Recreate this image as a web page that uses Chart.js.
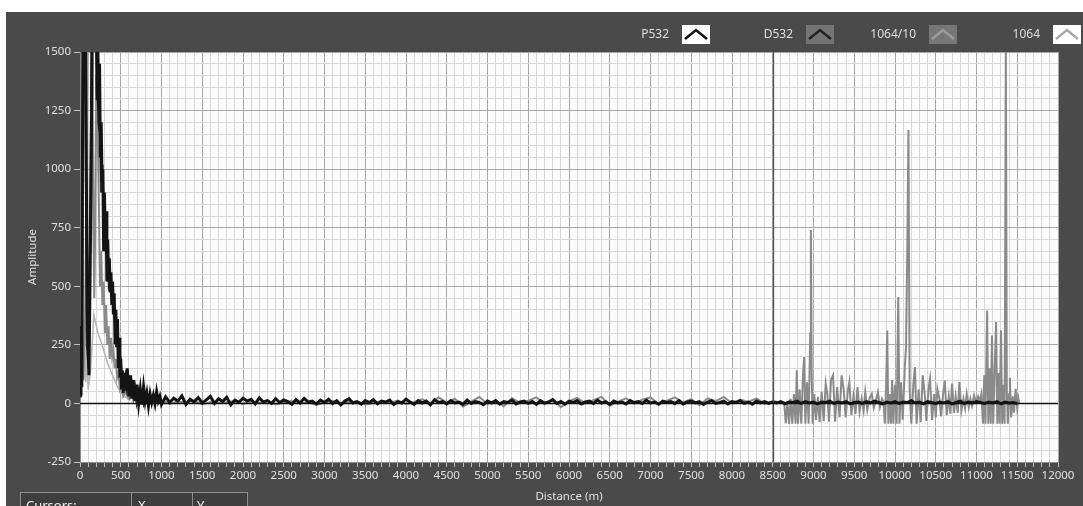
<!DOCTYPE html>
<html>
<head>
<meta charset="utf-8">
<script src="https://cdn.jsdelivr.net/npm/chart.js@4/dist/chart.umd.min.js"></script>
<style>
html, body { margin: 0; padding: 0; background: #fff; }
#wrap { position: relative; width: 1083px; height: 506px; }
</style>
</head>
<body>
<div id="wrap"><canvas id="scope"></canvas></div>
<script>
// Near-field samples (m / amplitude)
const p532Dist = [0, 12, 22, 35, 65, 90, 110, 135, 150, 200, 210, 220, 230, 240, 250, 260, 270, 280, 290, 300,
    310, 320, 330, 340, 350, 360, 370, 380, 390, 400, 410, 420, 430, 440, 450, 460, 470, 480, 490, 500,
    510, 520, 530, 540, 560, 580, 600, 620, 640, 660, 680, 700, 720, 740, 760, 780, 800, 820, 840, 860,
    880, 900, 920, 940, 960, 980, 1000];
const p532Amp = [40, 330, 70, 1600, 1600, 400, 120, 900, 1600, 1600, 1300, 1500, 1250, 1450, 1050, 1200, 950, 1000, 650, 900,
    700, 820, 520, 700, 560, 620, 480, 560, 420, 520, 380, 470, 260, 400, 240, 360, 150, 280, 110, 190,
    60, 140, 45, 130, 55, 150, 30, 120, 20, 100, 10, 80, 0, 60, -5, 70, 10, 45, -10, 40,
    5, 35, 0, 50, 10, 30, -5];

// Far-field P532 samples every 50 m from 1050 m
const p532TailStart = 1050;
const p532TailStep = 50;
const p532TailAmp = [
    28, 4, 22, 10, 32, -4, 18, 6, 25, 2,
    15, 30, 0, 20, 8, 26, -6, 14, 5, 22,
    10, 18, -2, 24, 6, 12, 0, 20, 4, 15,
    8, -4, 16, 2, 22, 6, 10, -2, 14, 4,
    18, 0, 12, -6, 10, 20, 2, 8, -3, 12,
    4, 16, -2, 10, 6, 14, -5, 8, 2, 18,
    6, -4, 12, 2, 10, -6, 16, 4, 8, -2,
    12, 2, 6, -4, 14, 0, 8, 4, -5, 10,
    2, 12, -3, 8, 4, 14, -2, 6, 10, 0,
    8, -4, 12, 2, 6, 16, 0, 8, -3, 10,
    4, 12, -2, 6, 10, 0, 14, 2, 8, -4,
    10, 2, 6, -2, 12, 4, 8, 0, 14, 2,
    6, -3, 10, 4, 8, 0, 12, -2, 6, 10,
    2, 8, -4, 6, 12, 0, 4, 10, -2, 8,
    4, 12, 0, 6, -3, 10, 2, 8, 0, 6,
    2, 8, -2, 6, 4, 10, 0, 8, 2, 6,
    -2, 6, 4, 10, 0, 6, 2, 8, -2, 4,
    6, 0, 8, 2, 10, 4, -2, 6, 2, 8,
    0, 6, 4, 12, 2, 6, -2, 8, 4, 0,
    6, 2, 8, -2, 4, 10, 0, 6, 2, 8,
    4, 0, 6, 2, 8, -2, 6, 2, 4, 0
];

const d532Dist = [0, 12, 25, 38, 62, 85, 105, 130, 145, 210, 225, 245, 260, 275, 295, 315, 335, 355, 375, 395,
    415, 435, 455, 475, 495, 515, 535, 555, 575, 595, 615, 635, 655, 675, 695, 715, 735, 755, 780, 800,
    830, 860, 900, 950, 1000];
const d532Amp = [30, 200, 90, 1600, 1600, 250, 150, 1000, 1600, 1600, 1200, 1150, 900, 1020, 780, 650, 640, 500, 520, 430,
    420, 330, 300, 210, 200, 100, 90, 120, 60, 100, 40, 80, 25, 60, 5, 45, 10, 40, 0, 30,
    10, 25, 5, 20, 0];

const ir10Dist = [0, 8, 16, 25, 40, 60, 80, 95, 150, 165, 175, 185, 200, 215, 230, 245, 260, 275, 290, 305,
    320, 335, 350, 365, 380, 395, 410, 425, 440, 455, 470, 490, 510, 530, 560, 600, 650, 700];
const ir10Amp = [590, 330, 560, 200, 100, 300, 900, 1600, 1600, 730, 450, 700, 1400, 1200, 900, 500, 650, 420, 520, 300,
    420, 250, 330, 190, 280, 200, 230, 150, 190, 110, 130, 60, 80, 30, 50, 20, 35, 10];

// 1064/10 baseline every 100 m from 800 m to 8600 m
const ir10TailStart = 800;
const ir10TailStep = 100;
const ir10TailAmp = [
    10, 2, 14, -2, 8, 4, 12, -4, 6, 2,
    5, 10, -2, 8, 2, 12, -4, 4, 10, 0,
    6, -6, 4, 10, 0, 6, 8, -4, 2, 10,
    2, 12, -2, 6, 18, 0, 26, 4, 20, -14,
    8, 28, -2, 14, -12, 22, 2, 12, 26, -4,
    18, -16, 10, 24, 0, 14, 28, -10, 8, 22,
    -2, 16, 26, -4, 12, 26, 4, 18, -8, 22,
    10, 28, 0, 16, 6, 22, -2, 10, 4
];

// 1064/10 echoes beyond the cursor
const ir10EchoDist = [8640, 8660, 8680, 8700, 8720, 8740, 8760, 8780, 8795, 8810, 8830, 8850, 8870, 8885, 8900, 8920, 8940, 8960, 8968, 8978,
    8990, 9010, 9030, 9055, 9075, 9100, 9125, 9150, 9170, 9190, 9215, 9240, 9265, 9290, 9320, 9345, 9370, 9395, 9420, 9440,
    9465, 9490, 9515, 9540, 9565, 9590, 9615, 9635, 9660, 9690, 9715, 9740, 9765, 9790, 9815, 9840, 9860,
    9875, 9890, 9905, 9918, 9935, 9950, 9965, 9980, 10000, 10020, 10040, 10055, 10075, 10095, 10120, 10135, 10150, 10165, 10180, 10200,
    10225, 10245, 10265, 10290, 10315, 10340, 10365, 10385, 10410, 10430, 10455, 10480, 10500, 10520, 10545, 10565, 10590, 10610, 10635, 10660,
    10680, 10700, 10725, 10745, 10770, 10790, 10815, 10840, 10860, 10880, 10905, 10925, 10945, 10970, 10995,
    11020, 11040, 11060, 11080, 11095, 11110, 11130, 11145, 11160, 11175, 11190, 11205, 11220, 11240, 11255, 11270, 11285, 11300, 11315, 11330,
    11345, 11360, 11372, 11385, 11400, 11410, 11425, 11445, 11460, 11480, 11500, 11515, 11525];
const ir10EchoAmp = [5, -85, 10, -87, 20, -87, 40, -87, 141, -87, 60, -87, 110, 198, -87, 90, -87, 300, 740, 120,
    -87, 40, -70, 28, -80, 50, -75, 85, 40, -78, 100, 120, -78, 70, -60, 120, 60, -60, 50, 91,
    -50, 30, -45, 70, -35, 20, -30, 48, -28, 25, 40, -20, 10, 48, -15, 20, 5,
    -87, 60, 311, -87, 40, -87, 100, -87, 80, -87, 454, -87, 90, -70, 150, 240, 625, 1167, 60, -87,
    80, 155, -87, 60, -80, 120, 40, -75, 60, 105, -70, 40, -60, 62, 20, -55, 40, 98, -50, 30,
    -45, 85, -40, 30, -40, 91, -30, 20, -20, 41, -15, 20, -10, 35, 5,
    30, 10, 40, -87, 120, -87, 397, -87, 150, -87, 290, -87, 100, 347, -87, 130, -87, 312, -87, 80,
    -87, 1510, 50, -87, 40, 110, -60, 30, -40, 62, -20, 20, 0];

const ir1064Dist = [0, 10, 22, 32, 45, 58, 70, 85, 100, 130, 170, 220, 280, 340, 400, 460, 520, 600];
const ir1064Amp = [120, 340, 180, 360, 100, 260, 90, 220, 60, 140, 380, 300, 240, 170, 120, 70, 40, 15];

const xTicks = [0, 500, 1000, 1500, 2000, 2500, 3000, 3500, 4000, 4500, 5000, 5500, 6000,
    6500, 7000, 7500, 8000, 8500, 9000, 9500, 10000, 10500, 11000, 11500, 12000];
const yTicks = [-250, 0, 250, 500, 750, 1000, 1250, 1500];
const cursorX = 8500;
const cursorY = 0;

const FONT = '"Noto Sans", "Open Sans", sans-serif';

function pairs(dist, amp) {
    return dist.map((d, i) => ({ x: d, y: amp[i] }));
}
function sampled(start, step, amp) {
    return amp.map((a, i) => ({ x: start + i * step, y: a }));
}

const p532Data = pairs(p532Dist, p532Amp).concat(sampled(p532TailStart, p532TailStep, p532TailAmp));
const d532Data = pairs(d532Dist, d532Amp);
const ir10Data = pairs(ir10Dist, ir10Amp)
    .concat(sampled(ir10TailStart, ir10TailStep, ir10TailAmp))
    .concat(pairs(ir10EchoDist, ir10EchoAmp));
const ir1064Data = pairs(ir1064Dist, ir1064Amp);

const panelPlugin = {
    id: 'panel',
    beforeDraw(chart) {
        const { ctx, chartArea: a } = chart;
        ctx.save();
        ctx.fillStyle = '#ffffff';
        ctx.fillRect(0, 0, chart.width, chart.height);
        ctx.fillStyle = '#4a4a4a';
        ctx.fillRect(6, 12, chart.width - 6, chart.height - 12);
        ctx.fillStyle = '#fbfbfb';
        ctx.fillRect(a.left, a.top, a.right - a.left, a.bottom - a.top);
        ctx.restore();
    },
    afterDatasetsDraw(chart) {
        const { ctx, chartArea: a, scales } = chart;
        const cx = Math.round(scales.x.getPixelForValue(cursorX)) + 0.5;
        const cy = Math.round(scales.y.getPixelForValue(cursorY)) + 0.5;
        ctx.save();
        ctx.strokeStyle = '#4d4d4d';
        ctx.lineWidth = 1.2;
        ctx.beginPath();
        ctx.moveTo(cx, a.top);
        ctx.lineTo(cx, a.bottom);
        ctx.stroke();
        ctx.strokeStyle = '#111';
        ctx.lineWidth = 1.5;
        ctx.beginPath();
        ctx.moveTo(a.left, cy);
        ctx.lineTo(a.right, cy);
        ctx.stroke();
        ctx.restore();
    },
    afterDraw(chart) {
        const ctx = chart.ctx;
        ctx.save();
        // legend row
        const swatchX = [682, 806, 929, 1053];
        ctx.font = '12px ' + FONT;
        ctx.textBaseline = 'middle';
        ctx.textAlign = 'right';
        chart.data.datasets.forEach((ds, i) => {
            const x = swatchX[i], y = 25;
            ctx.fillStyle = '#dedede';
            ctx.fillText(ds.label, x - 13, 35);
            ctx.fillStyle = ds.swatchFill;
            ctx.fillRect(x, y, 28, 19);
            ctx.strokeStyle = ds.swatchLine;
            ctx.lineWidth = 2.5;
            ctx.beginPath();
            ctx.moveTo(x + 3, y + 14);
            ctx.lineTo(x + 14, y + 5);
            ctx.lineTo(x + 25, y + 14);
            ctx.stroke();
        });
        // cursor table stub
        ctx.fillStyle = '#3e3e3e';
        ctx.fillRect(20, 492, 228, 16);
        ctx.strokeStyle = '#8e8e8e';
        ctx.lineWidth = 1;
        ctx.strokeRect(20.5, 492.5, 227, 16);
        ctx.beginPath();
        ctx.moveTo(131.5, 492.5); ctx.lineTo(131.5, 508);
        ctx.moveTo(192.5, 492.5); ctx.lineTo(192.5, 508);
        ctx.stroke();
        ctx.fillStyle = '#f0f0f0';
        ctx.textAlign = 'left';
        ctx.textBaseline = 'alphabetic';
        ctx.font = '13px ' + FONT;
        ctx.fillText('Cursors:', 26, 510);
        ctx.fillText('X', 138, 510);
        ctx.fillText('Y', 197, 510);
        ctx.restore();
    }
};

new Chart(document.getElementById('scope'), {
    type: 'line',
    data: {
        datasets: [
            { label: 'P532', data: p532Data, borderColor: '#141414', borderWidth: 3,
              swatchFill: '#ffffff', swatchLine: '#111111' },
            { label: 'D532', data: d532Data, borderColor: '#2c2c2c', borderWidth: 2.2,
              swatchFill: '#747474', swatchLine: '#222222' },
            { label: '1064/10', data: ir10Data, borderColor: '#8a8a8a', borderWidth: 2,
              swatchFill: '#777777', swatchLine: '#9c9c9c' },
            { label: '1064', data: ir1064Data, borderColor: '#b4b4b4', borderWidth: 1.5,
              swatchFill: '#ffffff', swatchLine: '#a8a8a8' }
        ]
    },
    options: {
        responsive: true,
        maintainAspectRatio: false,
        animation: false,
        elements: {
            point: { radius: 0 },
            line: { tension: 0, borderJoinStyle: 'miter' }
        },
        layout: { padding: { left: 6, top: 52, right: 25, bottom: 0 } },
        plugins: {
            legend: { display: false },
            tooltip: { enabled: false }
        },
        scales: {
            x: {
                type: 'linear',
                min: 0,
                max: 12000,
                afterFit(scale) { scale.height = 44; },
                afterBuildTicks(scale) {
                    const t = [];
                    for (let v = 0; v <= 12000; v += 100) t.push({ value: v });
                    scale.ticks = t;
                },
                ticks: {
                    autoSkip: false,
                    maxRotation: 0,
                    padding: 2,
                    color: '#e0e0e0',
                    font: { family: FONT, size: 11.5 },
                    callback: v => xTicks.includes(v) ? String(v) : ''
                },
                grid: {
                    color: c => xTicks.includes(c.tick.value) ? '#a8a8a8' : '#d8d8d8',
                    lineWidth: 1,
                    tickLength: 5,
                    tickColor: '#bdbdbd'
                },
                border: { color: '#8c8c8c' },
                title: {
                    display: true,
                    text: 'Distance (m)',
                    color: '#e0e0e0',
                    font: { family: FONT, size: 11.5 },
                    padding: { top: 0, bottom: 2 }
                }
            },
            y: {
                type: 'linear',
                min: -250,
                max: 1500,
                afterFit(scale) { scale.width = 74; },
                afterBuildTicks(scale) {
                    const t = [];
                    for (let v = -250; v <= 1500; v += 50) t.push({ value: v });
                    scale.ticks = t;
                },
                ticks: {
                    autoSkip: false,
                    padding: 3,
                    color: '#e0e0e0',
                    font: { family: FONT, size: 11.5 },
                    callback: v => yTicks.includes(v) ? String(v) : ''
                },
                grid: {
                    color: c => yTicks.includes(c.tick.value) ? '#a8a8a8' : '#d8d8d8',
                    lineWidth: 1,
                    tickLength: 6,
                    tickColor: c => yTicks.includes(c.tick.value) ? '#bdbdbd' : 'rgba(0,0,0,0)'
                },
                border: { color: '#8c8c8c' },
                title: {
                    display: true,
                    text: 'Amplitude',
                    color: '#e0e0e0',
                    font: { family: FONT, size: 11.5 },
                    padding: { top: 20, bottom: 0 }
                }
            }
        }
    },
    plugins: [panelPlugin]
});
</script>
</body>
</html>
